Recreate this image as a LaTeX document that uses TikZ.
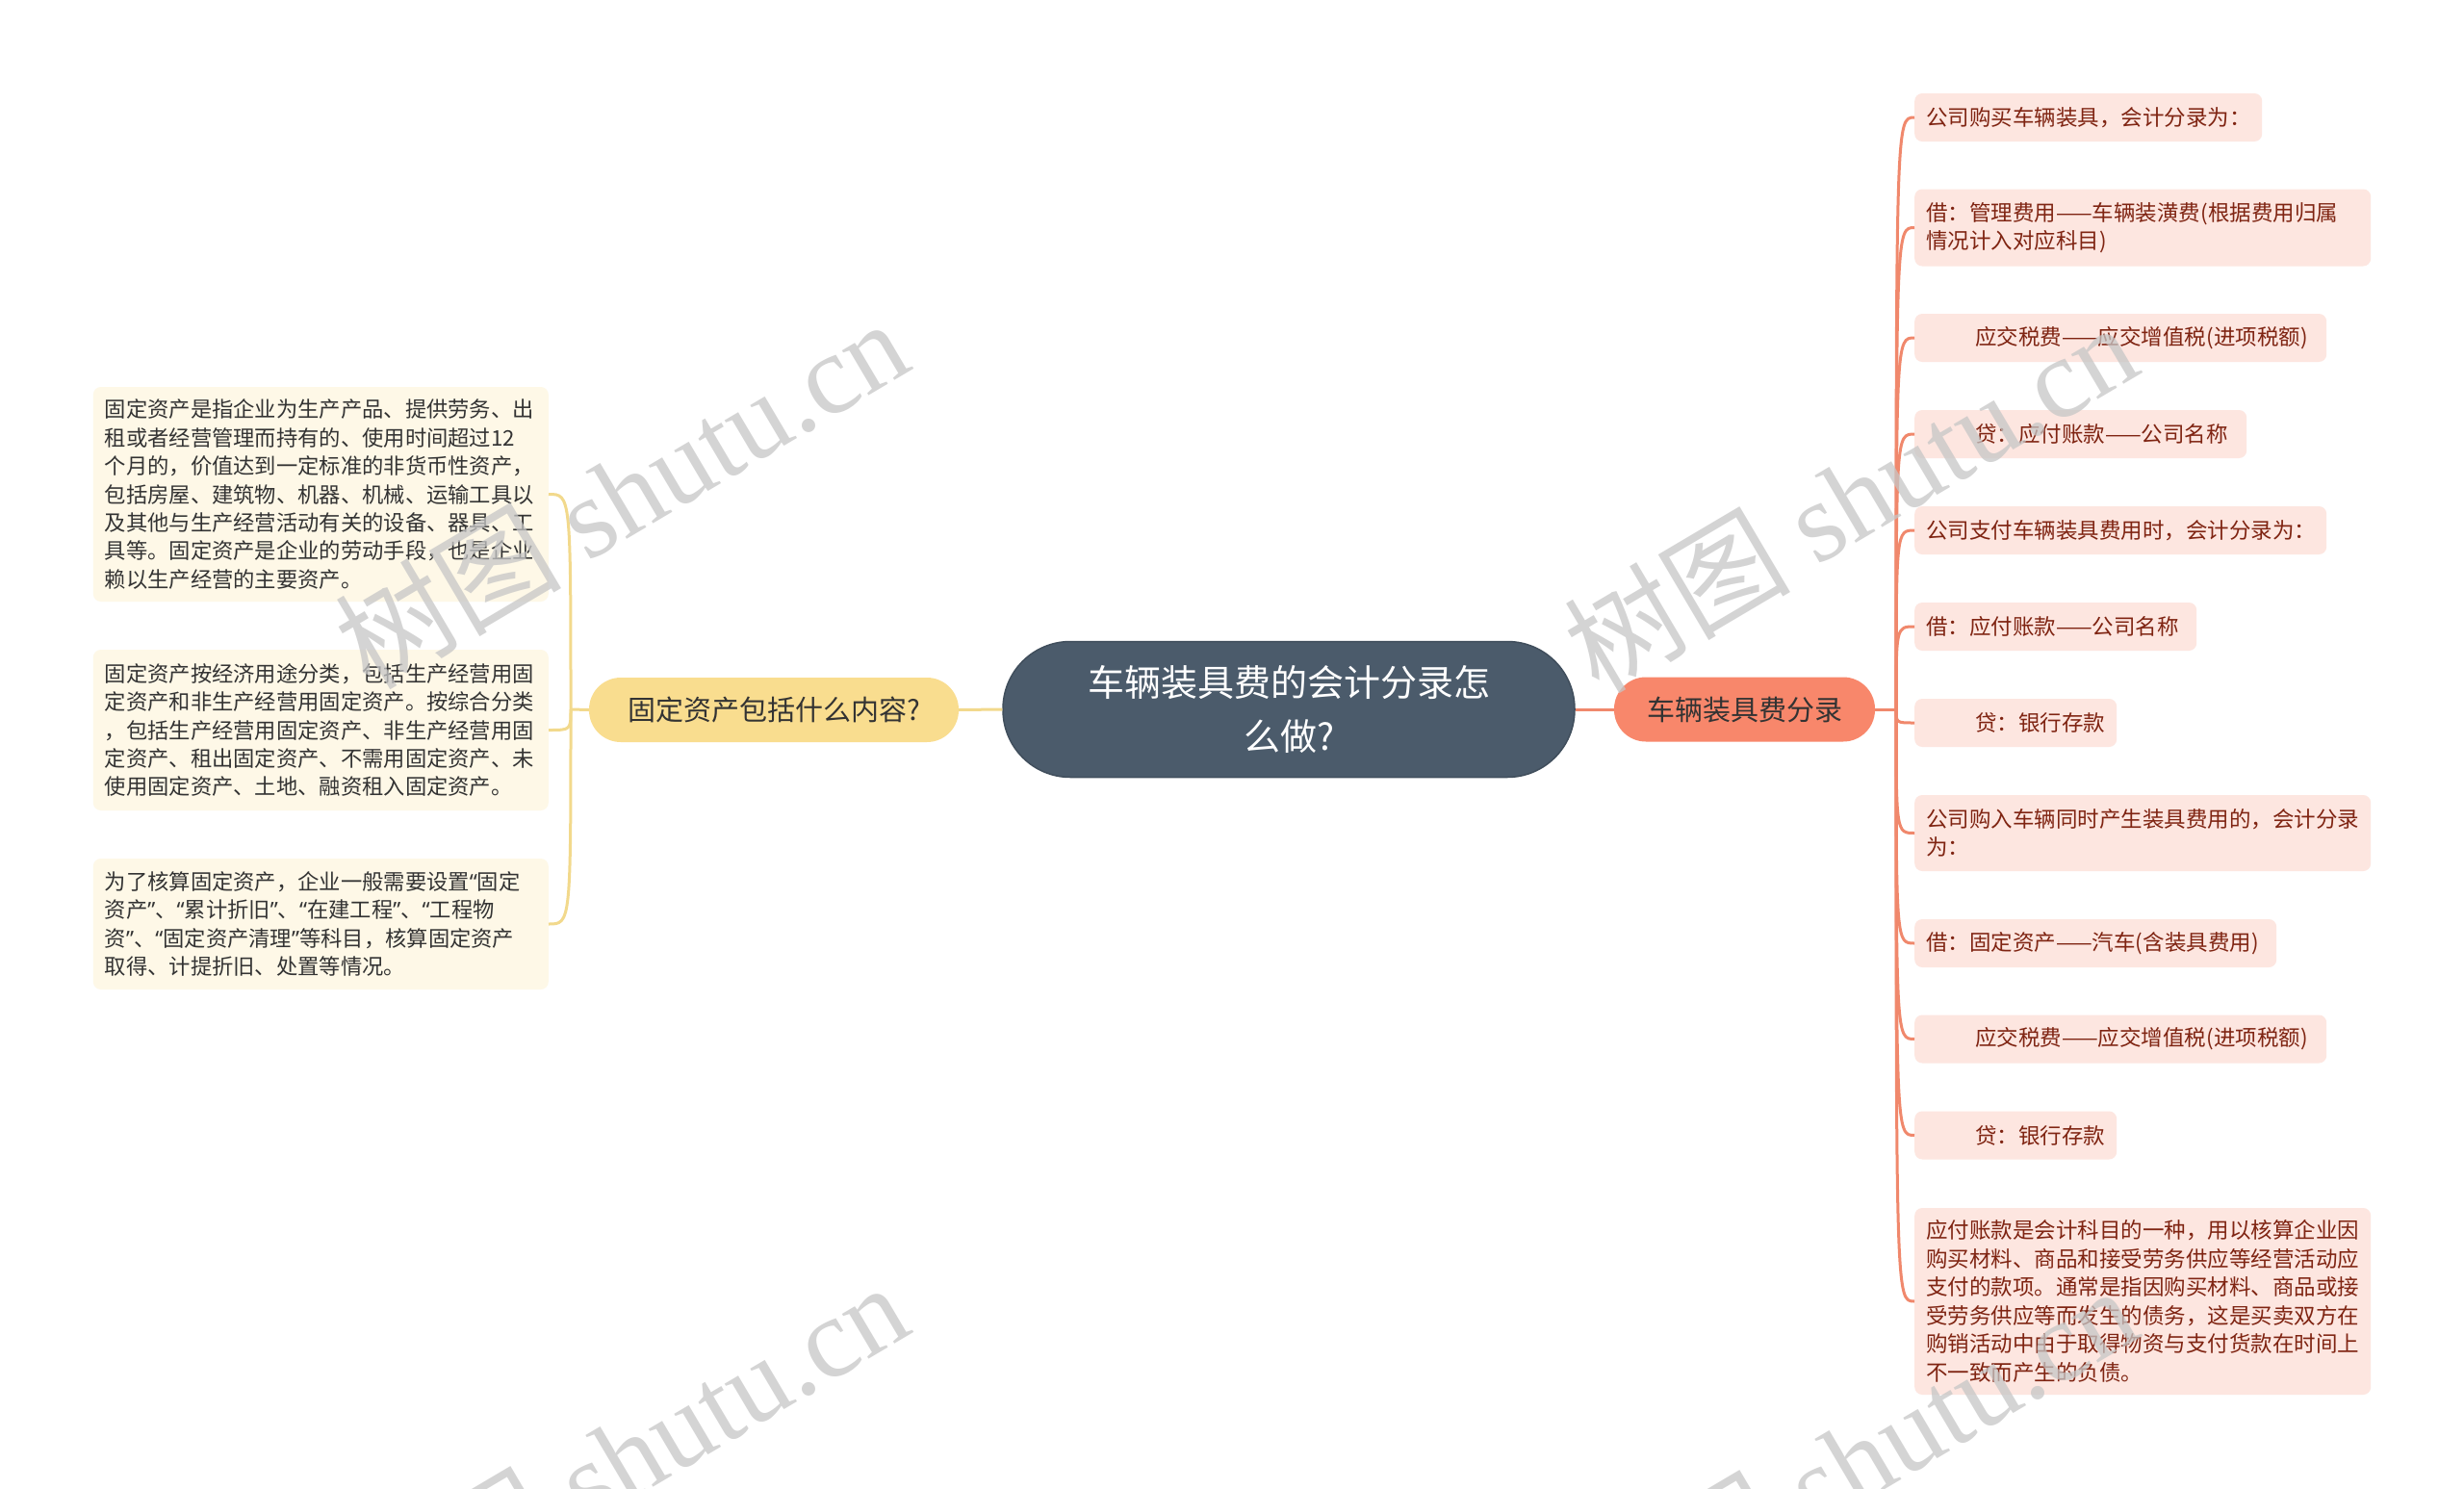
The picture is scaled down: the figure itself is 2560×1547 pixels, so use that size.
\documentclass[tikz,border=0pt]{standalone}
\usepackage{fontspec}
\setmainfont{Noto Sans CJK SC}
\newfontfamily\wmserif{Liberation Serif}
\newfontfamily\qfont{Noto Sans}
\usetikzlibrary{calc}
\definecolor{cdark}{HTML}{4B5B6B}
\definecolor{cdarkline}{HTML}{404E5C}
\definecolor{cyel}{HTML}{F9DD8F}
\definecolor{cyelline}{HTML}{F2D98C}
\definecolor{ccream}{HTML}{FEF8E7}
\definecolor{ccoral}{HTML}{F8876B}
\definecolor{ccoralline}{HTML}{F0886C}
\definecolor{cpink}{HTML}{FDE6E0}
\definecolor{cred}{HTML}{7F2412}
\definecolor{ctext}{HTML}{333333}
\definecolor{wmgray}{HTML}{C6C6C6}
\tikzset{
  rootbox/.style={fill=cdark, draw=cdarkline, line width=1.5pt, rounded corners=70pt,
    minimum width=594pt, minimum height=141pt, text=white, align=center,
    font=\fontsize{38}{56}\selectfont, inner sep=0pt},
  yelbox/.style={fill=cyel, rounded corners=33pt, minimum width=384pt, minimum height=67pt,
    font=\fontsize{29}{34}\selectfont, text=ctext, inner sep=0pt},
  corbox/.style={fill=ccoral, rounded corners=33pt, minimum width=271pt, minimum height=67pt,
    font=\fontsize{29}{34}\selectfont, text=ctext, inner sep=0pt},
  lleaf/.style={fill=ccream, rounded corners=8pt, text width=449pt, align=left,
    inner xsep=12pt, inner ysep=0pt, font=\fontsize{22.3}{29.4}\selectfont, text=ctext, anchor=east},
  rleaf/.style={fill=cpink, rounded corners=8pt, text width=#1, align=left,
    inner xsep=12pt, inner ysep=0pt, minimum height=50pt,
    font=\fontsize{22.5}{29.5}\selectfont, text=cred, anchor=west},
  rline/.style={draw=ccoralline, line width=3pt},
  lline/.style={draw=cyelline, line width=3pt},
  wm/.style={rotate=30.6, text=wmgray, opacity=0.75, font=\fontsize{118}{118}\selectfont, inner sep=0pt}
}
\newcommand{\ind}{\hspace*{51pt}}
\newcommand{\qo}{{\qfont “}}
\newcommand{\qc}{{\qfont ”}}
\begin{document}
\begin{tikzpicture}[x=1pt,y=-1pt]
\useasboundingbox (0,0) rectangle (2560,1547);
\fill[white] (0,0) rectangle (2560,1547);

% main nodes
\node[rootbox] (root) at (1339,737) {车辆装具费的会计分录怎\\么做?};
\node[yelbox] (L) at (804,737.5) {固定资产包括什么内容?};
\node[corbox] (R) at (1812.5,737) {车辆装具费分录};

% left leaves
\node[lleaf, minimum height=223pt] (l1) at (570,513.5) {固定资产是指企业为生产产品、提供劳务、出\\租或者经营管理而持有的、使用时间超过12\\个月的，价值达到一定标准的非货币性资产，\\包括房屋、建筑物、机器、机械、运输工具以\\及其他与生产经营活动有关的设备、器具、工\\具等。固定资产是企业的劳动手段，也是企业\\赖以生产经营的主要资产。};
\node[lleaf, minimum height=167pt] (l2) at (570,758.5) {固定资产按经济用途分类，包括生产经营用固\\定资产和非生产经营用固定资产。按综合分类\\，包括生产经营用固定资产、非生产经营用固\\定资产、租出固定资产、不需用固定资产、未\\使用固定资产、土地、融资租入固定资产。};
\node[lleaf, minimum height=136pt] (l3) at (570,960) {为了核算固定资产，企业一般需要设置\qo 固定\\资产\qc 、\qo 累计折旧\qc 、\qo 在建工程\qc 、\qo 工程物\\资\qc 、\qo 固定资产清理\qc 等科目，核算固定资产\\取得、计提折旧、处置等情况。};

% right leaves
\node[rleaf=337pt] (r1) at (1989,122) {公司购买车辆装具，会计分录为：};
\node[rleaf=450pt, minimum height=80pt] (r2) at (1989,236.5) {借：管理费用——车辆装潢费(根据费用归属\\情况计入对应科目)};
\node[rleaf=404pt] (r3) at (1989,351) {\ind 应交税费——应交增值税(进项税额)};
\node[rleaf=321pt] (r4) at (1989,451) {\ind 贷：应付账款——公司名称};
\node[rleaf=404pt] (r5) at (1989,551) {公司支付车辆装具费用时，会计分录为：};
\node[rleaf=269pt] (r6) at (1989,651) {借：应付账款——公司名称};
\node[rleaf=186pt] (r7) at (1989,751) {\ind 贷：银行存款};
\node[rleaf=450pt, minimum height=79pt] (r8) at (1989,865.5) {公司购入车辆同时产生装具费用的，会计分录\\为：};
\node[rleaf=352pt] (r9) at (1989,980) {借：固定资产——汽车(含装具费用)};
\node[rleaf=404pt] (r10) at (1989,1079.5) {\ind 应交税费——应交增值税(进项税额)};
\node[rleaf=186pt] (r11) at (1989,1179.5) {\ind 贷：银行存款};
\node[rleaf=450pt, minimum height=194pt] (r12) at (1989,1352) {应付账款是会计科目的一种，用以核算企业因\\购买材料、商品和接受劳务供应等经营活动应\\支付的款项。通常是指因购买材料、商品或接\\受劳务供应等而发生的债务，这是买卖双方在\\购销活动中由于取得物资与支付货款在时间上\\不一致而产生的负债。};

% connectors
\coordinate (rt) at (1970,737);
\coordinate (lt) at (593,737);
\draw[lline] (root.west) -- (L.east);
\draw[rline] (root.east) -- (R.west);
\draw[rline] (R.east) -- (rt);
\draw[lline] (L.west) -- (lt);
\foreach \n in {r1,r2,r3,r4,r5,r6,r7,r8,r9,r10,r11,r12}
  \draw[rline] (rt) .. controls (rt |- \n.west) .. (\n.west);
\foreach \n in {l1,l2,l3}
  \draw[lline] (lt) .. controls (lt |- \n.east) .. (\n.east);

% watermarks
\begin{scope}
\clip (0,0) rectangle (2560,1547);
\node[wm] (wm1) at (645,512) {树图 {\wmserif shutu.cn}};
\node[wm] (wm2) at (1922,516) {树图 {\wmserif shutu.cn}};
\node[wm] (wm3) at (645,1513) {树图 {\wmserif shutu.cn}};
\node[wm] (wm4) at (1922,1517) {树图 {\wmserif shutu.cn}};
\end{scope}
\end{tikzpicture}
\end{document}
